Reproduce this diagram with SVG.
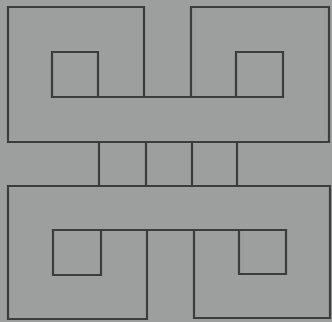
<svg xmlns="http://www.w3.org/2000/svg" width="332" height="322" viewBox="0 0 332 322">
<style>
.l{fill:none;stroke:#3b3d3d;stroke-width:2.2;stroke-linejoin:miter;stroke-linecap:square}
</style>
<rect width="332" height="322" fill="#9d9f9e"/>
<g id="top">
<path class="l" d="M144,97 V7 H8 V142 H329 V7 H191 V97"/>
<path class="l" d="M52,97 H283"/>
<path class="l" d="M98,97 V52 H52 V97"/>
<path class="l" d="M236,97 V52 H283 V97"/>
</g>
<g id="middle">
<path class="l" d="M99,142 V186 M146,142 V186 M192,142 V186 M237,142 V186"/>
</g>
<g id="bottom">
<path class="l" d="M147,230 V319 H8 V186 H330 V318 H194 V230"/>
<path class="l" d="M53,230 H286"/>
<path class="l" d="M53,230 V275 H101 V230"/>
<path class="l" d="M239,230 V274 H286 V230"/>
</g>
</svg>
